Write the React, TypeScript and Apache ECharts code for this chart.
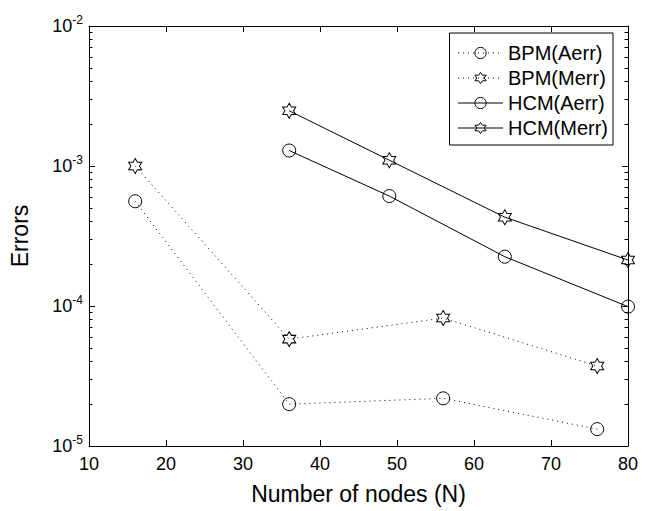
import React, { useEffect, useRef } from "react";
import * as echarts from "echarts";

const nodesBPM = [16, 36, 56, 76];
const nodesHCM = [36, 49, 64, 80];
const bpmAerr = [5.6e-4, 1.99e-5, 2.19e-5, 1.32e-5];
const bpmMerr = [1.0e-3, 5.8e-5, 8.2e-5, 3.73e-5];
const hcmAerr = [1.29e-3, 6.1e-4, 2.25e-4, 9.9e-5];
const hcmMerr = [2.48e-3, 1.1e-3, 4.31e-4, 2.13e-4];
const seriesNames = ["BPM(Aerr)", "BPM(Merr)", "HCM(Aerr)", "HCM(Merr)"];
const xTicks = [10, 20, 30, 40, 50, 60, 70, 80];
const yMajor = [1e-5, 1e-4, 1e-3, 1e-2];

const HEX =
  "path://M50 0L35.57 25L6.7 25L21.13 50L6.7 75L35.57 75L50 100L64.43 75L93.3 75L78.87 50L93.3 25L64.43 25Z";

const FONT = "'Liberation Sans', Arial, sans-serif";

function minorValues(): number[] {
  const out: number[] = [];
  for (let e = -5; e < -2; e++) {
    for (let m = 2; m <= 9; m++) out.push(Number((m * Math.pow(10, e)).toPrecision(3)));
  }
  return out;
}

export default function App() {
  const ref = useRef<HTMLDivElement>(null);
  useEffect(() => {
    if (!ref.current) return;
    const chart = echarts.init(ref.current, null, { renderer: "svg" });
    const zip = (xs: number[], ys: number[]) => xs.map((x, i) => [x, ys[i]]);
    const lineBase = (name: string, data: number[][], dotted: boolean, symbol: string, size: any) => ({
      name,
      type: "line",
      data,
      xAxisIndex: 0,
      yAxisIndex: 0,
      symbol,
      symbolSize: size,
      showSymbol: true,
      lineStyle: { color: "#000", width: 1, type: dotted ? [1, 4] : "solid" },
      itemStyle: { color: "transparent", borderColor: "#000", borderWidth: 1 },
      z: 3,
    });
    const minor = minorValues();
    const yCommon = {
      type: "log",
      logBase: 10,
      min: 1e-5,
      max: 1e-2,
      splitLine: { show: false },
      minorSplitLine: { show: false },
    };
    chart.setOption({
      animation: false,
      backgroundColor: "#fff",
      grid: { left: 88, right: 21, top: 26, bottom: 65, containLabel: false },
      legend: {
        orient: "vertical",
        right: 36,
        top: 33,
        padding: [10, 5, 7, 8],
        itemGap: 5,
        itemWidth: 45,
        itemHeight: 14,
        backgroundColor: "#fff",
        borderColor: "#000",
        borderWidth: 1,
        borderRadius: 0,
        itemStyle: { color: "transparent", borderColor: "#000", borderWidth: 1 },
        lineStyle: { width: 1 },
        textStyle: { fontFamily: FONT, fontSize: 20, color: "#000" },
        data: seriesNames,
      },
      xAxis: [
        {
          type: "value",
          position: "bottom",
          min: 10,
          max: 80,
          interval: 10,
          axisLine: { show: true, lineStyle: { color: "#000", width: 1 } },
          axisTick: { show: true, inside: true, length: 6, lineStyle: { color: "#000" } },
          axisLabel: {
            show: true,
            margin: 9,
            fontFamily: FONT,
            fontSize: 18,
            color: "#000",
            customValues: xTicks,
          },
          splitLine: { show: false },
          name: "Number of nodes (N)",
          nameLocation: "middle",
          nameGap: 36,
          nameTextStyle: { fontFamily: FONT, fontSize: 23, color: "#000" },
        },
        {
          type: "value",
          position: "top",
          min: 10,
          max: 80,
          interval: 10,
          axisLine: { show: true, onZero: false, lineStyle: { color: "#000", width: 1 } },
          axisTick: { show: true, inside: true, length: 6, lineStyle: { color: "#000" } },
          axisLabel: { show: false },
          splitLine: { show: false },
        },
      ],
      yAxis: [
        {
          ...yCommon,
          position: "left",
          axisLine: { show: true, lineStyle: { color: "#000", width: 1 } },
          axisTick: { show: true, inside: true, length: 6, lineStyle: { color: "#000" }, customValues: yMajor },
          axisLabel: {
            show: true,
            margin: 6,
            customValues: yMajor,
            formatter: (v: number) => `{b|10}{s|${Math.round(Math.log10(v))}}`,
            rich: {
              b: { fontFamily: FONT, fontSize: 18, color: "#000", lineHeight: 24 },
              s: { fontFamily: FONT, fontSize: 12, color: "#000", lineHeight: 12, verticalAlign: "top" },
            },
          },
          name: "Errors",
          nameLocation: "middle",
          nameGap: 58,
          nameTextStyle: { fontFamily: FONT, fontSize: 23, color: "#000" },
        },
        {
          ...yCommon,
          position: "left",
          axisLine: { show: false },
          axisTick: { show: true, inside: true, length: 3.5, lineStyle: { color: "#000" }, customValues: minor },
          axisLabel: { show: false },
        },
        {
          ...yCommon,
          position: "right",
          axisLine: { show: true, lineStyle: { color: "#000", width: 1 } },
          axisTick: { show: true, inside: true, length: 6, lineStyle: { color: "#000" }, customValues: yMajor },
          axisLabel: { show: false },
        },
        {
          ...yCommon,
          position: "right",
          axisLine: { show: false },
          axisTick: { show: true, inside: true, length: 3.5, lineStyle: { color: "#000" }, customValues: minor },
          axisLabel: { show: false },
        },
      ],
      series: [
        lineBase(seriesNames[0], zip(nodesBPM, bpmAerr), true, "circle", 13),
        lineBase(seriesNames[1], zip(nodesBPM, bpmMerr), true, HEX, [13, 15]),
        lineBase(seriesNames[2], zip(nodesHCM, hcmAerr), false, "circle", 13),
        lineBase(seriesNames[3], zip(nodesHCM, hcmMerr), false, HEX, [13, 15]),
      ],
    });
    return () => chart.dispose();
  }, []);
  return <div ref={ref} style={{ width: 649, height: 511, position: "absolute", left: 0, top: 0 }} />;
}
